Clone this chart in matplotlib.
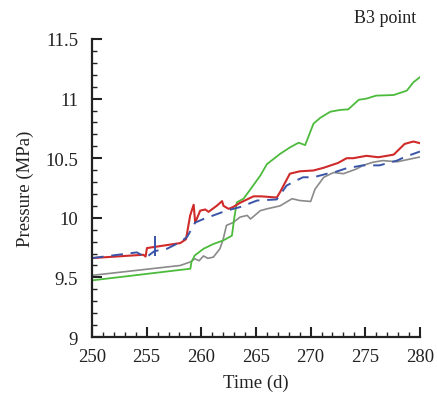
import matplotlib
matplotlib.use("Agg")
import matplotlib.pyplot as plt
from matplotlib.ticker import MultipleLocator

plt.rcParams['font.family'] = ['Liberation Serif', 'DejaVu Serif']

red_t = [250, 254.7, 254.9, 255.03, 258.07, 258.6, 258.98, 259.3, 259.44, 259.9, 260.36, 260.66,
         261.4, 261.9, 262.03, 262.5, 262.9, 263.55, 264.77, 265.5, 266.9, 267.2, 268.1, 269.0,
         270.26, 271.2, 272.5, 273.3, 273.9, 275.1, 276.2, 277.6, 278.6, 279.4, 280]
red_p = [9.662, 9.69, 9.675, 9.746, 9.788, 9.82, 10.02, 10.11, 9.96, 10.06, 10.07, 10.05,
         10.10, 10.14, 10.10, 10.075, 10.09, 10.126, 10.18, 10.18, 10.17, 10.215, 10.37, 10.39,
         10.397, 10.42, 10.46, 10.50, 10.50, 10.52, 10.508, 10.53, 10.62, 10.64, 10.626]

blue_t = [250, 254.1, 254.9, 255.2, 255.7, 256.85, 258.07, 258.7, 259.44,
          260.2, 261.1, 262.3, 263.55, 265.1, 266.9, 267.8, 268.4, 269.3, 270.26, 271.5, 272.1,
          273.3, 274.8, 276.3, 277.9, 278.6, 280]
blue_p = [9.662, 9.71, 9.67, 9.685, 9.72, 9.74, 9.796, 9.84, 9.96,
          9.99, 10.02, 10.06, 10.09, 10.145, 10.154, 10.27, 10.30, 10.34, 10.34, 10.37, 10.38,
          10.416, 10.44, 10.44, 10.48, 10.51, 10.556]
blue_spike_t = [255.72, 255.72]
blue_spike_p = [9.69, 9.84]

gray_t = [250, 258.07, 259.0, 259.4, 259.8, 260.2, 260.6, 261.1, 261.7, 262.0, 262.3, 262.9,
          263.55, 264.2, 264.5, 265.4, 266.0, 267.2, 268.3, 269.0, 270.0, 270.4, 271.2, 272.1,
          273.0, 274.2, 274.8, 275.7, 276.6, 277.9, 280]
gray_p = [9.517, 9.60, 9.63, 9.656, 9.64, 9.68, 9.66, 9.67, 9.74, 9.82, 9.936, 9.96,
          10.006, 10.02, 9.99, 10.06, 10.075, 10.10, 10.16, 10.145, 10.137, 10.24, 10.34, 10.38,
          10.37, 10.41, 10.44, 10.466, 10.48, 10.47, 10.51]

green_t = [250, 259.0, 259.1, 259.4, 260.2, 261.1, 262.0, 262.8, 263.0, 263.25, 263.86, 264.5,
           265.4, 266.0, 267.2, 268.1, 268.9, 269.5, 270.26, 270.9, 271.8, 272.7, 273.45, 274.4,
           275.1, 276.0, 277.6, 278.8, 279.4, 280]
green_p = [9.475, 9.573, 9.63, 9.684, 9.74, 9.78, 9.81, 9.85, 9.99, 10.13, 10.16, 10.24,
           10.355, 10.45, 10.536, 10.59, 10.63, 10.61, 10.79, 10.84, 10.89, 10.905, 10.91, 10.99,
           11.00, 11.025, 11.03, 11.067, 11.137, 11.18]

fig = plt.figure(figsize=(4.37, 4.02), dpi=100)
ax = fig.add_axes([0.2105, 0.1592, 0.7505, 0.7413])

ax.plot(gray_t, gray_p, color='#8a8a8a', lw=1.2)
ax.plot(green_t, green_p, color='#4cbb3c', lw=1.3)
ax.plot(red_t, red_p, color='#d02a2a', lw=1.5)
ax.plot(blue_t, blue_p, color='#3a55a8', lw=1.4, dashes=(6, 4))
ax.plot(blue_spike_t, blue_spike_p, color='#3a55a8', lw=1.4)

ax.set_xlim(250, 280)
ax.set_ylim(9, 11.5)
ax.xaxis.set_major_locator(MultipleLocator(5))
ax.xaxis.set_minor_locator(MultipleLocator(1))
ax.yaxis.set_minor_locator(MultipleLocator(0.1))
ax.set_yticks([9, 9.5, 10, 10.5, 11, 11.5])
ax.set_yticklabels(['9', '9.5', '10', '10.5', '11', '11.5'])

for s in ['top', 'right']:
    ax.spines[s].set_visible(False)
for s in ['left', 'bottom']:
    ax.spines[s].set_linewidth(1.6)
    ax.spines[s].set_color('#222222')

ax.tick_params(which='major', direction='in', length=7, width=1.5, labelsize=13.5, colors='#222222')
ax.tick_params(axis='y', which='major', pad=10)
ax.tick_params(axis='x', which='major', pad=8)
ax.tick_params(which='minor', direction='in', length=3.5, width=1.0, colors='#222222')

ax.set_xlabel('Time (d)', fontsize=13.5, color='#222222', labelpad=6)
ax.set_ylabel('Pressure (MPa)', fontsize=13.5, color='#222222', labelpad=8)

fig.text(0.882, 0.955, 'B3 point', fontsize=13, ha='center', va='center', color='#222222')

fig.savefig('out.png', dpi=100)
